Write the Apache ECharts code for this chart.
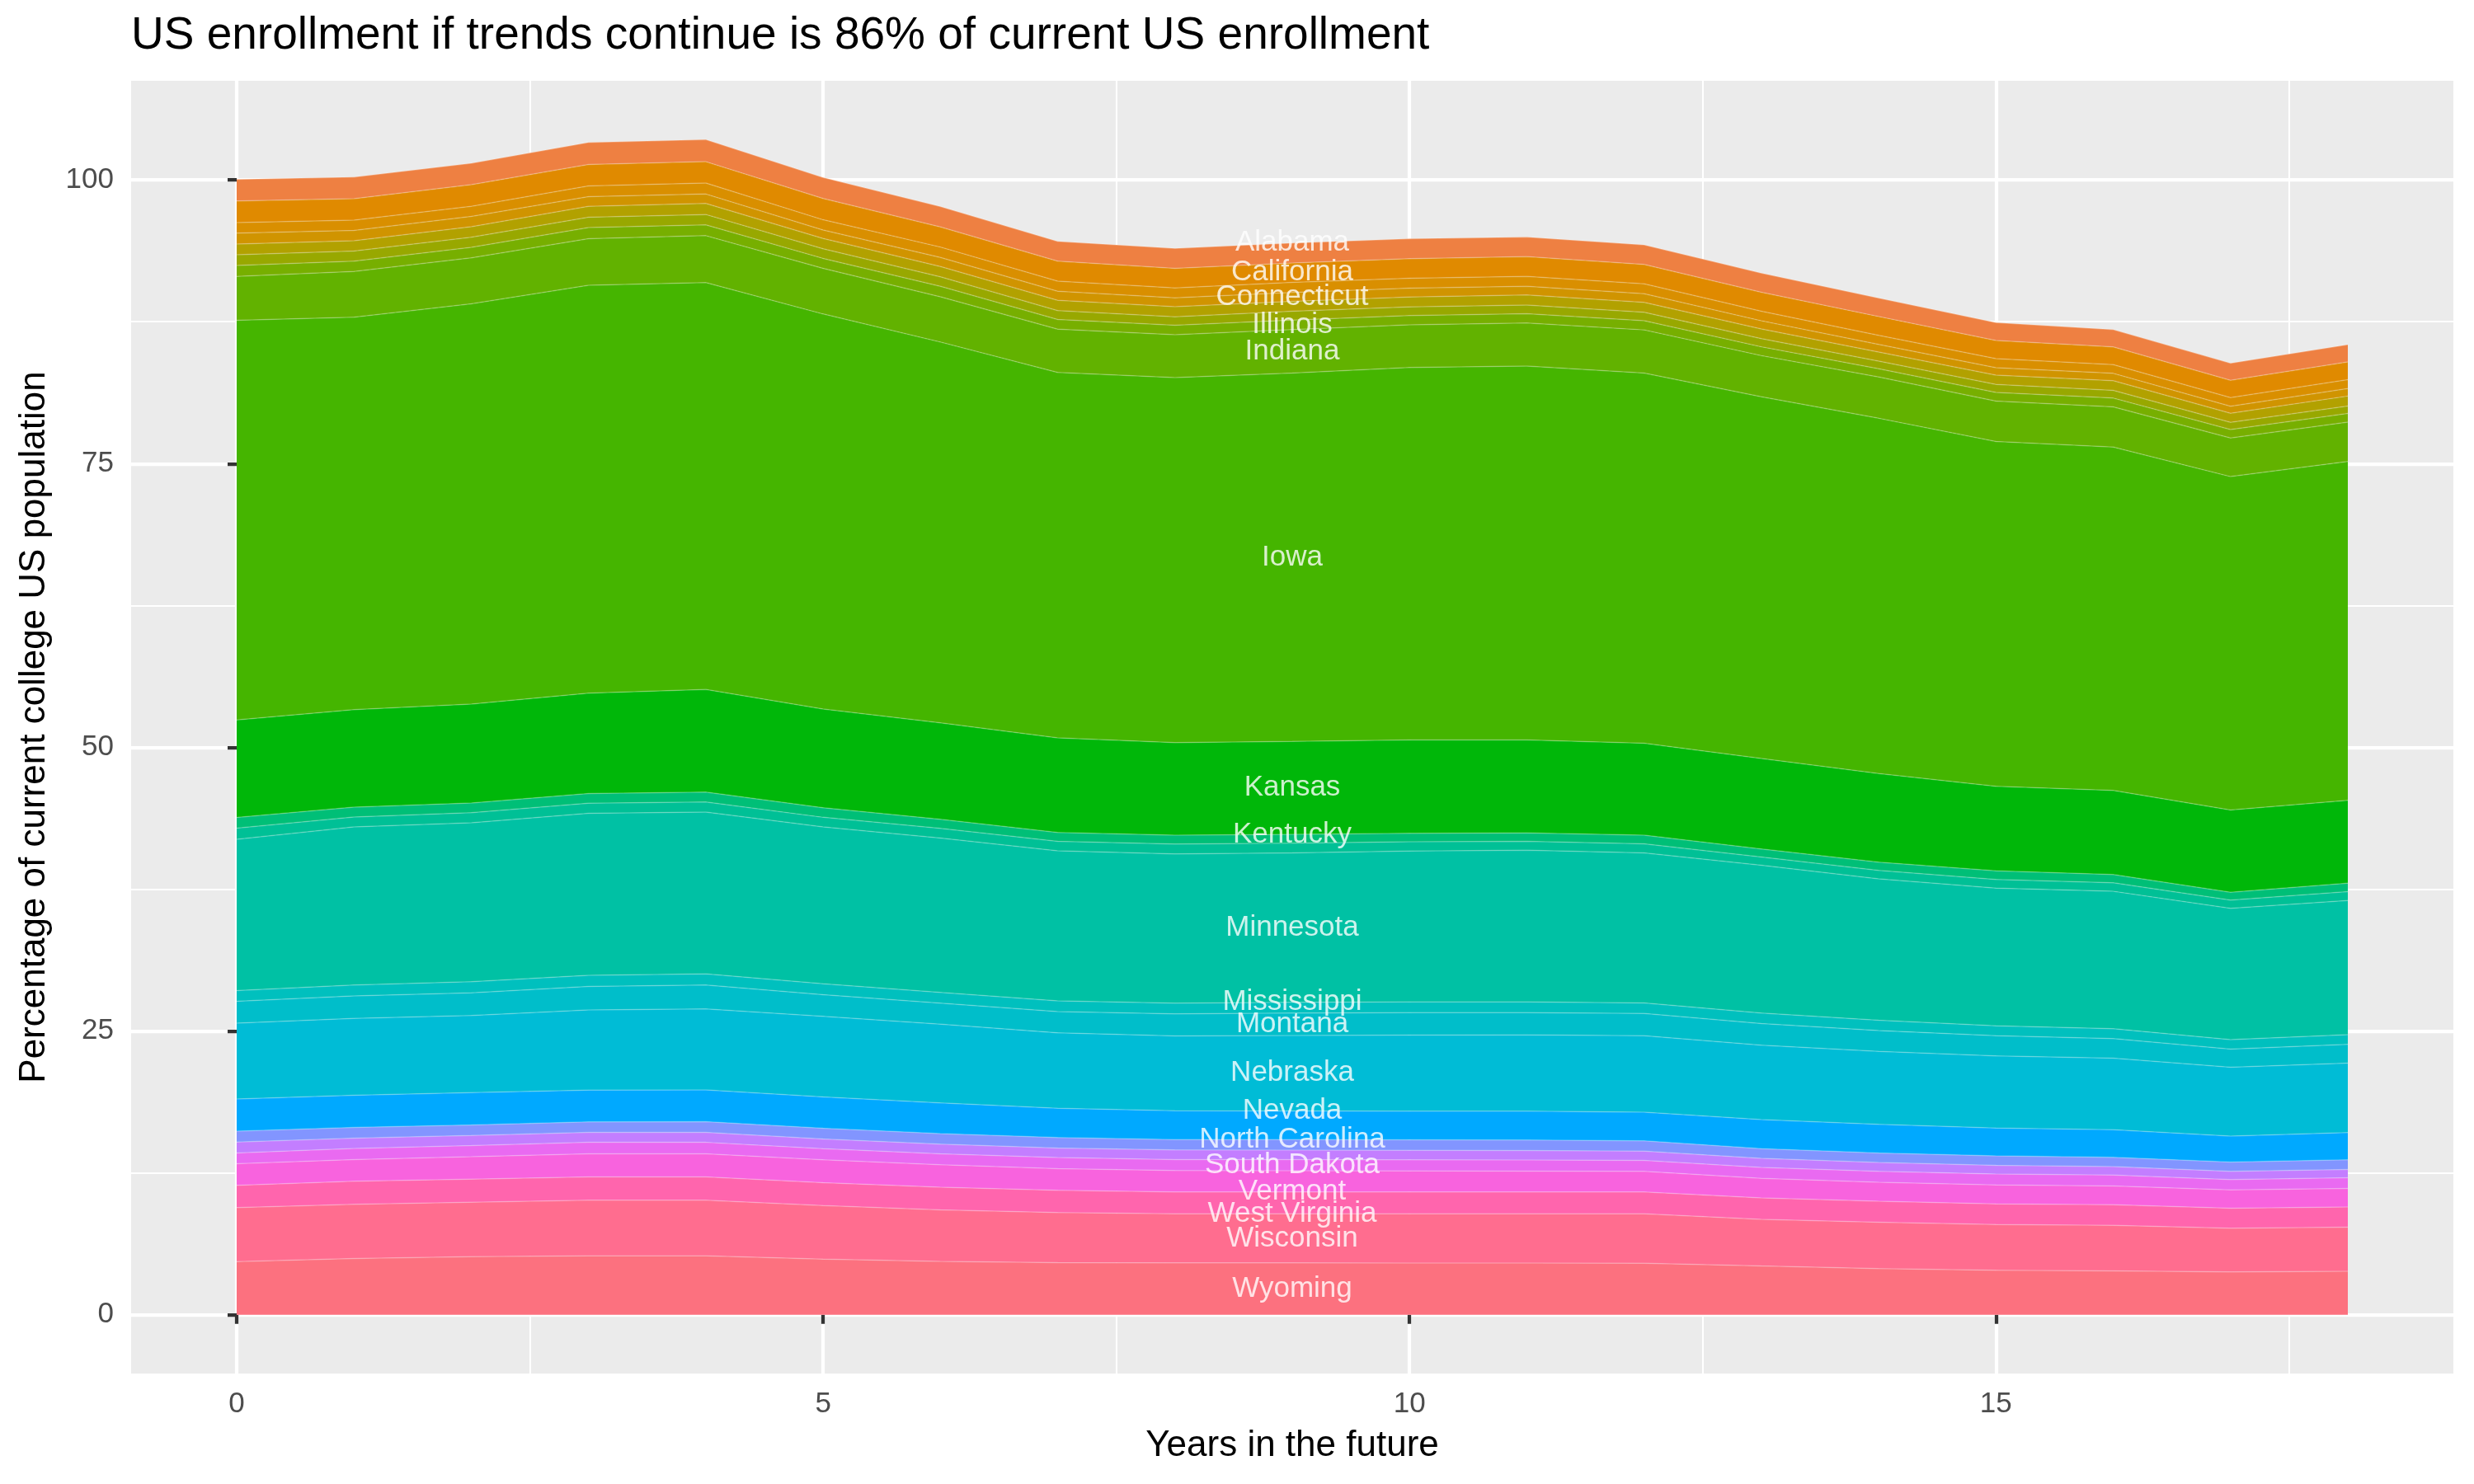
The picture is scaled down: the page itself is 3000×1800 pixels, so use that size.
<!DOCTYPE html>
<html>
<head>
<meta charset="utf-8">
<script src="https://cdn.jsdelivr.net/npm/echarts@6/dist/echarts.min.js"></script>
<style>
html,body{margin:0;padding:0;background:#ffffff;}
#chart{width:3000px;height:1800px;}
</style>
</head>
<body>
<div id="chart"></div>
<script>
// ---------------- DATA (percentage points of current college US population) ----------------
const years = [0,1,2,3,4,5,6,7,8,9,10,11,12,13,14,15,16,17,18];

// stacked layers, listed from the bottom of the stack to the top
const wyoming      = [4.69,4.96,5.12,5.2,5.2,4.9,4.71,4.6,4.58,4.57,4.56,4.55,4.54,4.3,4.07,3.93,3.87,3.78,3.83];
const wisconsin    = [4.76,4.78,4.79,4.9,4.9,4.72,4.54,4.41,4.31,4.32,4.33,4.34,4.35,4.1,4.09,4.02,4.01,3.85,3.89];
const washington   = [1.96,2.02,2.04,2.05,2.05,2.02,1.99,1.95,1.94,1.94,1.94,1.94,1.93,1.9,1.84,1.82,1.82,1.76,1.78];
const texas        = [1.9,1.92,1.98,2.04,2.04,2.02,1.98,1.92,1.88,1.87,1.85,1.83,1.81,1.72,1.68,1.67,1.64,1.61,1.64];
const southDakota  = [0.95,0.98,0.98,1.0,1.0,0.98,0.97,0.97,0.97,0.97,0.97,0.97,0.97,0.96,0.96,0.97,0.97,0.92,0.94];
const pennsylvania = [0.96,0.9,0.88,0.88,0.88,0.85,0.85,0.84,0.84,0.84,0.84,0.84,0.82,0.8,0.78,0.76,0.75,0.72,0.73];
const ohio         = [0.96,0.94,0.94,0.93,0.95,0.94,0.92,0.92,0.92,0.92,0.92,0.92,0.9,0.86,0.84,0.83,0.82,0.81,0.85];
const newYork      = [2.83,2.84,2.85,2.8,2.8,2.76,2.7,2.58,2.53,2.53,2.54,2.55,2.53,2.55,2.52,2.45,2.42,2.3,2.4];
const nebraska     = [6.68,6.77,6.79,7.05,7.13,7.1,6.95,6.66,6.6,6.65,6.7,6.72,6.74,6.57,6.43,6.36,6.3,6.06,6.12];
const montana      = [1.94,1.98,2.0,2.08,2.1,1.92,1.85,1.86,1.94,1.98,1.98,1.97,1.96,1.9,1.84,1.77,1.74,1.6,1.65];
const missouri     = [0.94,0.96,0.97,0.98,0.98,0.96,0.95,0.94,0.94,0.94,0.94,0.94,0.93,0.92,0.9,0.88,0.87,0.84,0.84];
const minnesota    = [13.33,13.93,14.0,14.27,14.27,13.81,13.6,13.23,13.16,13.16,13.29,13.36,13.21,13.02,12.45,12.14,12.1,11.56,11.84];
const michigan     = [0.98,0.88,0.9,0.89,0.89,0.85,0.85,0.84,0.86,0.86,0.82,0.79,0.81,0.74,0.76,0.76,0.76,0.73,0.77];
const maryland     = [0.94,0.86,0.86,0.86,0.86,0.84,0.8,0.77,0.78,0.78,0.74,0.73,0.75,0.7,0.72,0.75,0.72,0.68,0.74];
const kansas       = [8.59,8.6,8.71,8.84,9.05,8.7,8.5,8.34,8.17,8.19,8.22,8.19,8.1,7.98,7.81,7.45,7.41,7.26,7.31];
const iowa         = [35.21,34.57,35.26,35.94,35.85,34.81,33.55,32.2,32.15,32.46,32.83,32.95,32.63,31.86,31.3,30.38,30.26,29.37,29.85];
const indiana      = [3.87,4.04,4.06,4.11,4.13,4.02,3.99,3.82,3.78,3.83,3.75,3.8,3.8,3.63,3.64,3.57,3.53,3.4,3.48];
const illinois     = [0.97,0.9,0.92,0.97,0.95,0.88,0.92,0.85,0.83,0.83,0.82,0.82,0.81,0.78,0.72,0.76,0.78,0.75,0.76];
const hawaii       = [0.94,0.9,0.9,0.92,0.92,0.85,0.84,0.78,0.76,0.78,0.76,0.76,0.75,0.72,0.68,0.7,0.68,0.63,0.65];
const florida      = [0.94,0.9,0.92,0.95,0.97,0.9,0.9,0.9,0.88,0.88,0.88,0.88,0.87,0.85,0.8,0.82,0.85,0.8,0.88];
const connecticut  = [0.97,0.92,0.9,0.86,0.83,0.75,0.8,0.8,0.78,0.78,0.77,0.77,0.76,0.72,0.67,0.65,0.65,0.62,0.66];
const colorado     = [0.92,0.9,0.9,0.95,0.97,0.9,0.92,0.9,0.88,0.88,0.88,0.88,0.87,0.84,0.8,0.8,0.77,0.77,0.79];
const california   = [1.91,1.89,1.9,1.88,1.88,1.88,1.77,1.75,1.73,1.72,1.73,1.73,1.7,1.68,1.66,1.6,1.56,1.52,1.56];
const arizona      = [1.9,1.9,1.9,1.95,1.95,1.85,1.8,1.75,1.75,1.76,1.76,1.74,1.73,1.68,1.62,1.58,1.52,1.5,1.52];

const layerNames = ['Wyoming','Wisconsin','Washington','Texas','South Dakota','Pennsylvania','Ohio','New York',
  'Nebraska','Montana','Missouri','Minnesota','Michigan','Maryland','Kansas','Iowa','Indiana','Illinois',
  'Hawaii','Florida','Connecticut','Colorado','California','Arizona'];
const layerValues = [wyoming,wisconsin,washington,texas,southDakota,pennsylvania,ohio,newYork,
  nebraska,montana,missouri,minnesota,michigan,maryland,kansas,iowa,indiana,illinois,
  hawaii,florida,connecticut,colorado,california,arizona];

// direct labels (state name, position in the stack at year 9)
const labelYear = 9;
const labelNames = ['Alabama','California','Connecticut','Illinois','Indiana','Iowa','Kansas','Kentucky',
  'Minnesota','Mississippi','Montana','Nebraska','Nevada','North Carolina','South Dakota','Vermont',
  'West Virginia','Wisconsin','Wyoming'];
const labelY = [94.44,91.82,89.69,87.23,84.9,66.75,46.43,42.33,34.11,27.55,25.6,21.29,17.96,15.43,13.19,10.83,8.89,6.73,2.29];

// axis tick labels
const xTicks = [0,5,10,15];
const yTicks = [0,25,50,75,100];

// ---------------- STYLE ----------------
// ggplot2 default hue palette position of each state (alphabetical list of 51 incl. DC)
const paletteSize = 51;
const paletteIndex = {'Wyoming':51,'Wisconsin':50,'Washington':48,'Texas':44,'South Dakota':42,'Pennsylvania':39,
  'Ohio':36,'New York':33,'Nebraska':28,'Montana':27,'Missouri':26,'Minnesota':24,'Michigan':23,'Maryland':21,
  'Kansas':17,'Iowa':16,'Indiana':15,'Illinois':14,'Hawaii':12,'Florida':10,'Connecticut':7,'Colorado':6,
  'California':5,'Arizona':3};

function hclHex(h, c, l) {
  c = (c == null) ? 100 : c; l = (l == null) ? 65 : l;
  const rad = h * Math.PI / 180;
  const U = c * Math.cos(rad), V = c * Math.sin(rad);
  const Xn = 0.95047, Yn = 1.0, Zn = 1.08883;
  const Y = l > 8 ? Yn * Math.pow((l + 16) / 116, 3) : Yn * l / 903.3;
  const den = Xn + 15 * Yn + 3 * Zn;
  const un = 4 * Xn / den, vn = 9 * Yn / den;
  const up = U / (13 * l) + un, vp = V / (13 * l) + vn;
  const X = Y * 9 * up / (4 * vp);
  const Z = Y * (12 - 3 * up - 20 * vp) / (4 * vp);
  const lin = [
    3.2404542 * X - 1.5371385 * Y - 0.4985314 * Z,
    -0.9692660 * X + 1.8760108 * Y + 0.0415560 * Z,
    0.0556434 * X - 0.2040259 * Y + 1.0572252 * Z];
  return '#' + lin.map(function (v) {
    v = v <= 0.0031308 ? 12.92 * v : 1.055 * Math.pow(v, 1 / 2.4) - 0.055;
    v = Math.min(1, Math.max(0, v));
    return Math.round(v * 255).toString(16).padStart(2, '0');
  }).join('');
}
function stateColor(name) {
  const i = paletteIndex[name];
  return hclHex(15 + (i - 1) * 360 / paletteSize);
}

const FONT = 'Liberation Sans, Arial, Helvetica, sans-serif';

// ggplot-like expansion of the scales (5% each side)
const totals = years.map((_, i) => layerValues.reduce((s, arr) => s + arr[i], 0));
const yTop = Math.max.apply(null, totals);
const yExp = 0.05 * yTop;
const xSpan = years[years.length - 1] - years[0];
const xExp = 0.05 * xSpan;

// data rows are [value, year] so that the stacked dimension is the value (y) dimension
const areaSeries = layerNames.map(function (name, k) {
  const col = stateColor(name);
  return {
    name: name,
    type: 'line',
    stack: 'total',
    symbol: 'none',
    showSymbol: false,
    silent: true,
    z: 2,
    encode: { x: 1, y: 0 },
    data: years.map((yr, i) => [layerValues[k][i], yr]),
    lineStyle: { width: 1.5, color: 'rgba(255,255,255,0.25)' },
    itemStyle: { color: col },
    areaStyle: { color: col, opacity: 1 }
  };
});

const labelSeries = {
  name: 'labels',
  type: 'scatter',
  silent: true,
  z: 10,
  symbolSize: 1,
  itemStyle: { color: 'rgba(0,0,0,0)' },
  data: labelNames.map((n, i) => ({ name: n, value: [labelYear, labelY[i]] })),
  label: {
    show: true,
    position: 'inside',
    padding: [10, 0, 0, 0],
    formatter: '{b}',
    color: '#FFFFFF',
    fontSize: 35,
    fontFamily: FONT
  },
  labelLayout: { hideOverlap: false }
};

const chart = echarts.init(document.getElementById('chart'), null, { renderer: 'canvas', width: 3000, height: 1800 });
chart.setOption({
  animation: false,
  backgroundColor: '#FFFFFF',
  title: {
    text: 'US enrollment if trends continue is 86% of current US enrollment',
    left: 159,
    top: 16,
    padding: 0,
    textStyle: { fontSize: 55, fontWeight: 'normal', color: '#000000', fontFamily: FONT }
  },
  grid: {
    show: true,
    backgroundColor: '#EBEBEB',
    borderWidth: 0,
    left: 159,
    right: 25,
    top: 98,
    bottom: 134,
    containLabel: false
  },
  xAxis: {
    type: 'value',
    min: years[0] - xExp,
    max: years[years.length - 1] + xExp,
    minInterval: 5,
    maxInterval: 5,
    axisLine: { show: false },
    axisTick: { show: true, length: 11, customValues: xTicks, lineStyle: { color: '#333333', width: 4.25 } },
    axisLabel: { customValues: xTicks, color: '#4D4D4D', fontSize: 35, margin: 20, fontFamily: FONT },
    splitLine: { show: true, lineStyle: { color: '#FFFFFF', width: 4.25 } },
    minorTick: { show: false, splitNumber: 2 },
    minorSplitLine: { show: true, lineStyle: { color: '#FFFFFF', width: 2.1 } },
    name: 'Years in the future',
    nameLocation: 'middle',
    nameGap: 66,
    nameTextStyle: { color: '#000000', fontSize: 44, fontFamily: FONT }
  },
  yAxis: {
    type: 'value',
    min: -yExp,
    max: yTop + yExp,
    minInterval: 25,
    maxInterval: 25,
    axisLine: { show: false },
    axisTick: { show: true, length: 11, customValues: yTicks, lineStyle: { color: '#333333', width: 4.25 } },
    axisLabel: { customValues: yTicks, color: '#4D4D4D', fontSize: 35, margin: 21, fontFamily: FONT },
    splitLine: { show: true, lineStyle: { color: '#FFFFFF', width: 4.25 } },
    minorTick: { show: false, splitNumber: 2 },
    minorSplitLine: { show: true, lineStyle: { color: '#FFFFFF', width: 2.1 } },
    name: 'Percentage of current college US population',
    nameLocation: 'middle',
    nameRotate: 90,
    nameGap: 95,
    nameTextStyle: { color: '#000000', fontSize: 44, fontFamily: FONT }
  },
  series: areaSeries.concat([labelSeries])
});
</script>
</body>
</html>
